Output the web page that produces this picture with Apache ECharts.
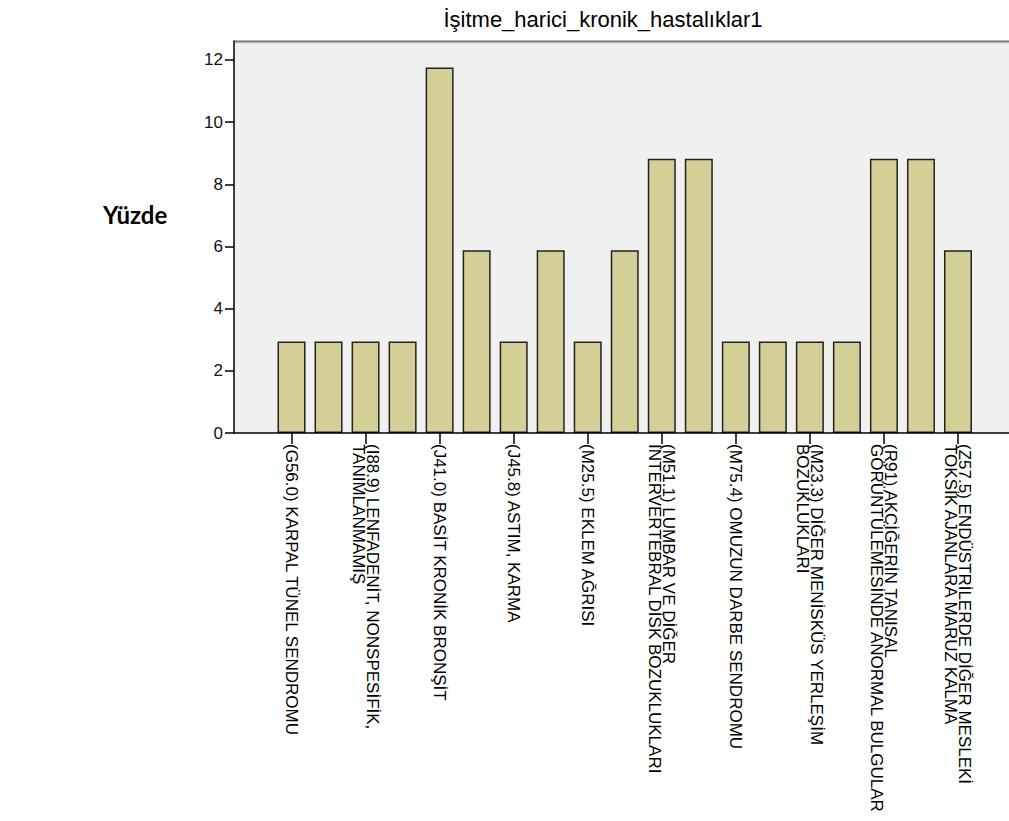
<!DOCTYPE html>
<html><head><meta charset="utf-8">
<script src="https://cdn.jsdelivr.net/npm/echarts@6/dist/echarts.min.js"></script>
<style>html,body{margin:0;background:#fff}#c{width:1009px;height:821px}</style>
</head><body><div id="c"></div>
<script>
// ---- data ----
const categories = [
  '(G56.0) KARPAL TÜNEL SENDROMU',
  'Kategori 2',
  '(I88.9) LENFADENİT, NONSPESİFİK,\nTANIMLANMAMIŞ',
  'Kategori 4',
  '(J41.0) BASİT KRONİK BRONŞİT',
  'Kategori 6',
  '(J45.8) ASTIM, KARMA',
  'Kategori 8',
  '(M25.5) EKLEM AĞRISI',
  'Kategori 10',
  '(M51.1) LUMBAR VE DİĞER\nİNTERVERTEBRAL DİSK BOZUKLUKLARI',
  'Kategori 12',
  '(M75.4) OMUZUN DARBE SENDROMU',
  'Kategori 14',
  '(M23.3) DİĞER MENİSKÜS YERLEŞİM\nBOZUKLUKLARI',
  'Kategori 16',
  '(R91) AKCİĞERİN TANISAL\nGÖRÜNTÜLEMESİNDE ANORMAL BULGULAR',
  'Kategori 18',
  '(Z57.5) ENDÜSTRİLERDE DİĞER MESLEKİ\nTOKSİK AJANLARA MARUZ KALMA'
];
const percents = [2.94, 2.94, 2.94, 2.94, 11.76, 5.88, 2.94, 5.88, 2.94, 5.88,
                  8.82, 8.82, 2.94, 2.94, 2.94, 2.94, 8.82, 8.82, 5.88];
const yTicks = [0, 2, 4, 6, 8, 10, 12];
const titleText = 'İşitme_harici_kronik_hastalıklar1';
const yName = 'Yüzde';

// ---- layout ----
const frame = { left: 234, top: 41, width: 800, height: 392 };
const plot = { left: 273, right: 32.5, top: 41, bottom: 388 };

const chart = echarts.init(document.getElementById('c'), null, { renderer: 'svg' });
chart.setOption({
  animation: false,
  backgroundColor: '#ffffff',
  title: {
    text: titleText,
    left: 598, top: 3, textAlign: 'center',
    textStyle: { fontFamily: 'Liberation Sans, Arial, sans-serif', fontSize: 22, fontWeight: 'normal', color: '#000' }
  },
  grid: { left: plot.left, right: plot.right, top: plot.top, bottom: plot.bottom, outerBoundsMode: 'none', containLabel: false },
  xAxis: {
    type: 'category',
    data: categories,
    axisLine: { show: false },
    axisTick: { show: true, alignWithLabel: true, interval: 1, length: 11, lineStyle: { color: '#000', width: 1.5 } },
    axisLabel: {
      interval: 1, rotate: -90, margin: 11,
      fontFamily: 'Liberation Sans, Arial, sans-serif', fontSize: 17, lineHeight: 14, color: '#000'
    },
    splitLine: { show: false }
  },
  yAxis: {
    type: 'value', min: 0, max: 12.61, offset: plot.left - frame.left,
    axisLine: { show: true, lineStyle: { color: '#000', width: 1.5 } },
    axisTick: { show: true, customValues: yTicks, length: 9, lineStyle: { color: '#000', width: 1.5 } },
    axisLabel: { customValues: yTicks, margin: 11, fontFamily: 'Liberation Sans, Arial, sans-serif', fontSize: 17, color: '#111' },
    splitLine: { show: false }
  },
  series: [{
    type: 'bar',
    data: percents,
    barWidth: 28,
    itemStyle: { color: '#d4cf97', borderColor: '#222', borderWidth: 1.5 }
  }],
  graphic: [
    { type: 'rect', z: -10, shape: { x: frame.left, y: frame.top, width: frame.width, height: frame.height }, style: { fill: '#f0f0f0' } },
    { type: 'line', z: -5, shape: { x1: frame.left, y1: frame.top + 0.5, x2: frame.left + frame.width, y2: frame.top + 0.5 }, style: { stroke: '#777', lineWidth: 2 } },
    { type: 'line', z: -5, shape: { x1: frame.left, y1: frame.top + 2, x2: frame.left + frame.width, y2: frame.top + 2 }, style: { stroke: '#c8c8c8', lineWidth: 1 } },
    { type: 'line', z: 100, shape: { x1: frame.left, y1: frame.top + frame.height, x2: frame.left + frame.width, y2: frame.top + frame.height }, style: { stroke: '#000', lineWidth: 1.5 } },
    { type: 'text', left: 103, top: 202, style: { text: yName, font: 'bold 24px Lato, "Open Sans", sans-serif', fill: '#000' } }
  ]
});
</script></body></html>
